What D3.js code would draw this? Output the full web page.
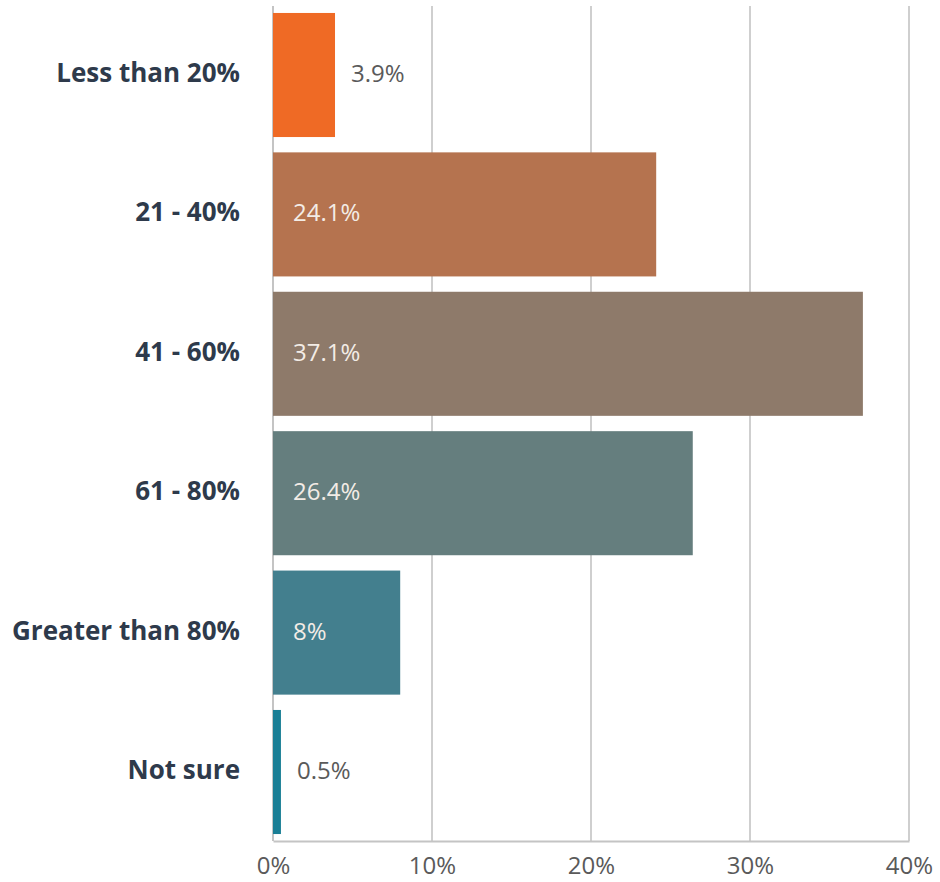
<!DOCTYPE html>
<html><head><meta charset="utf-8">
<script src="https://cdn.jsdelivr.net/npm/d3@7"></script>
<style>body{margin:0;background:#fff}svg{display:block}</style>
</head><body>
<svg id="c" width="940" height="882"></svg>
<script>
const categories = ["Less than 20%", "21 - 40%", "41 - 60%", "61 - 80%", "Greater than 80%", "Not sure"];
const values = [3.9, 24.1, 37.1, 26.4, 8, 0.5];
const valueLabels = ["3.9%", "24.1%", "37.1%", "26.4%", "8%", "0.5%"];
const colors = ["#ef6a25", "#b5734f", "#8e7a6a", "#657e7e", "#437f8e", "#1a7f96"];
const ticks = [0, 10, 20, 30, 40];

const FONT = "'Open Sans', Lato, sans-serif";
const svg = d3.select("#c");
const m = {left: 273, right: 909, top: 6, bottom: 841};
const x = d3.scaleLinear().domain([0, 40]).range([m.left, m.right]);
const y = d3.scaleBand().domain(categories).range([m.top, m.bottom]).paddingInner(0.11).paddingOuter(0.05);

// gridlines
svg.append("g").selectAll("line").data(ticks.slice(1)).join("line")
  .attr("x1", d => x(d)).attr("x2", d => x(d))
  .attr("y1", m.top).attr("y2", m.bottom)
  .attr("stroke", "#cfcfcf").attr("stroke-width", 2);

// axis
const ax = svg.append("g").attr("transform", `translate(0,${m.bottom})`)
  .call(d3.axisBottom(x).tickValues(ticks).tickFormat(d => d + "%").tickSize(0).tickPadding(0));
ax.select(".domain").attr("stroke", "#c4c4c4").attr("stroke-width", 2);
ax.selectAll("text").attr("font-family", FONT).attr("font-size", 24).attr("fill", "#5a5a5a")
  .attr("dy", null).attr("y", 33);

// left axis line
svg.append("line").attr("x1", x(0)).attr("x2", x(0)).attr("y1", m.top).attr("y2", m.bottom)
  .attr("stroke", "#c4c4c4").attr("stroke-width", 2);

// bars
svg.append("g").selectAll("rect").data(categories).join("rect")
  .attr("x", x(0)).attr("y", d => y(d))
  .attr("width", (d, i) => x(values[i]) - x(0))
  .attr("height", y.bandwidth())
  .attr("fill", (d, i) => colors[i]);

// category labels
svg.append("g").selectAll("text").data(categories).join("text")
  .attr("x", 240).attr("y", d => y(d) + y.bandwidth() / 2 + 7)
  .attr("text-anchor", "end")
  .attr("font-family", FONT).attr("font-weight", "bold")
  .attr("font-size", 26).attr("fill", "#2e3a4b")
  .text(d => d);

// value labels
svg.append("g").selectAll("text").data(categories).join("text")
  .attr("x", (d, i) => values[i] > 5 ? x(0) + 20 : Math.max(x(0) + 20, x(values[i]) + 16))
  .attr("y", d => y(d) + y.bandwidth() / 2 + 7)
  .attr("font-family", FONT)
  .attr("font-size", 24)
  .attr("fill", (d, i) => values[i] > 5 ? "#f3ece6" : "#5a5a5a")
  .text((d, i) => valueLabels[i]);
</script>
</body></html>
